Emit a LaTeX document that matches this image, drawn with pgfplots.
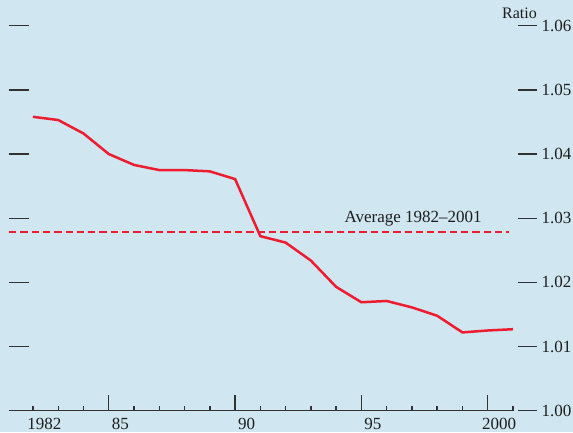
\documentclass[border=0pt]{standalone}
\usepackage{fontspec}
\setmainfont{Liberation Serif}
\usepackage{pgfplots}
\pgfplotsset{compat=1.18}
\definecolor{bg}{RGB}{208,230,241}
\definecolor{linered}{RGB}{237,28,46}
\definecolor{tickgray}{RGB}{50,50,50}
\definecolor{textgray}{RGB}{30,30,30}
\begin{document}
\begin{tikzpicture}
\fill[bg] (-9pt,-21.3pt) rectangle (564pt,410.7pt);
\pgfplotsset{common/.style={
  at={(0pt,0pt)}, anchor=south west, scale only axis,
  width=509pt, height=385pt,
  xmin=1981.05, xmax=2001.2, ymin=1, ymax=1.06,
  axis line style={draw=none},
  every tick/.style={tickgray, line width=1.4pt},
  major tick style={tickgray, line width=1.4pt},
  minor tick style={tickgray, line width=1.4pt},
  font=\fontsize{17}{20}\selectfont,
  tick label style={text=textgray, inner sep=0pt},
  /pgf/number format/assume math mode=true,
  clip=false,
}}
% left y ticks
\begin{axis}[common, axis x line*=bottom, axis y line*=left,
  xtick=\empty, ytick={1,1.01,1.02,1.03,1.04,1.05,1.06}, yticklabels={},
  ytick align=inside, major tick length=20pt]
\end{axis}
% right y ticks
\begin{axis}[common, axis x line*=bottom, axis y line*=right,
  xtick=\empty, ytick={1,1.01,1.02,1.03,1.04,1.05,1.06},
  ytick align=outside, major tick length=19pt,
  yticklabel style={anchor=west, xshift=4.5pt,
    /pgf/number format/.cd, fixed, fixed zerofill, precision=2},
  scaled y ticks=false]
\end{axis}
% main axis
\begin{axis}[common, axis x line*=bottom, axis y line*=left,
  ytick=\empty,
  xtick={1985,1990,1995,2000}, xticklabels={85,90,95,2000},
  minor xtick={1982,1983,1984,1986,1987,1988,1989,1991,1992,1993,1994,1996,1997,1998,1999,2001},
  extra x ticks={1982}, extra x tick labels={1982},
  extra x tick style={major tick length=5pt},
  xtick align=inside, major tick length=16pt, minor tick length=5pt,
  xticklabel style={anchor=north, xshift=11.5pt, yshift=-7.3pt},
  /pgf/number format/1000 sep={}]
\draw[tickgray, line width=1.4pt] (axis cs:1981.05,1) -- (axis cs:2001,1);
\addplot[linered, line width=2.3pt, dash pattern=on 7.3pt off 4pt] coordinates {(1981.05,1.0278) (2000.84,1.0278)};
\addplot[linered, line width=2.5pt, mark=none] coordinates {
(1982,1.0458) (1983,1.0453) (1984,1.0432) (1985,1.0400) (1986,1.0383)
(1987,1.0375) (1988,1.0375) (1989,1.0373) (1990,1.0361) (1991,1.0272)
(1992,1.0262) (1993,1.0234) (1994,1.0193) (1995,1.0169) (1996,1.0171)
(1997,1.0161) (1998,1.0148) (1999,1.0122) (2000,1.0125) (2001,1.0127)};
\node[anchor=base, inner sep=0pt, text=textgray] at (axis cs:1997.05,1.0278) [yshift=10.3pt] {Average 1982\textendash 2001};
\node[anchor=base east, inner sep=0pt, text=textgray, font=\fontsize{16}{19}\selectfont] at (rel axis cs:1,1) [xshift=19pt, yshift=7.4pt] {Ratio};
\end{axis}
\pgfresetboundingbox
\useasboundingbox (-9pt,-21.3pt) rectangle (564pt,410.7pt);
\end{tikzpicture}
\end{document}
